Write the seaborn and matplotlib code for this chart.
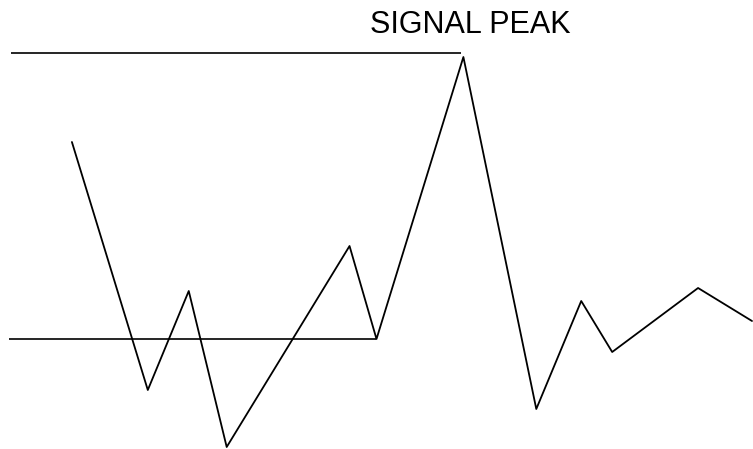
import matplotlib
matplotlib.use("Agg")
from matplotlib import pyplot as plt
import seaborn as sns
import pandas as pd

# Signal trace (x = time position, y = signal level)
time_pos = [72, 148, 189, 227, 350, 377, 464, 537, 582, 613, 699, 753]
signal = [307, 59, 158, 2, 203, 110, 392, 40, 148, 97, 161, 128]

# Reference levels drawn as horizontal lines
peak_level = 396
peak_line_span = [11, 462]
base_level = 110
base_line_span = [9, 377]

title_text = "SIGNAL PEAK"

sns.set_style("white")
plt.rcParams['font.family'] = ['Liberation Sans', 'DejaVu Sans']

fig = plt.figure(figsize=(7.53, 4.49), dpi=100)
ax = fig.add_axes([0, 0, 1, 1])

df = pd.DataFrame({'t': time_pos, 'v': signal})
sns.lineplot(data=df, x='t', y='v', ax=ax, color='black', linewidth=1.3, sort=False)

ax.hlines(peak_level, peak_line_span[0], peak_line_span[1], color='black', linewidth=1.2)
ax.hlines(base_level, base_line_span[0], base_line_span[1], color='black', linewidth=1.2)

ax.text(471, 416, title_text, ha='center', va='baseline', fontsize=22, color='black')

ax.set_xlim(0, 754)
ax.set_ylim(0, 449)
ax.set_xlabel("")
ax.set_ylabel("")
ax.set_xticks([])
ax.set_yticks([])
for spine in ax.spines.values():
    spine.set_visible(False)

fig.savefig("out.png", dpi=100, facecolor='white')
plt.close(fig)
